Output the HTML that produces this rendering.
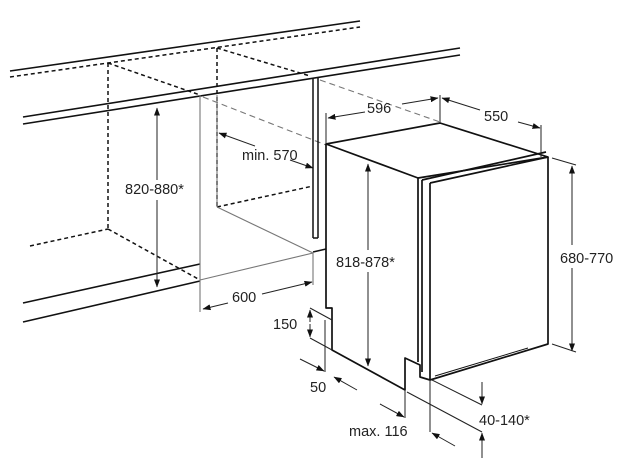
<!DOCTYPE html>
<html><head><meta charset="utf-8"><style>
html,body{margin:0;padding:0;background:#fff}
svg{display:block}
text{font-family:"Liberation Sans",sans-serif;font-size:14.5px;fill:#222}
</style></head><body>
<svg width="639" height="476" viewBox="0 0 639 476" xmlns="http://www.w3.org/2000/svg">
<defs>
<marker id="a" markerWidth="8" markerHeight="6" refX="7.5" refY="3" orient="auto" markerUnits="userSpaceOnUse"><path d="M0,0 L8,3 L0,6 z" fill="#111"/></marker>
</defs>
<g stroke="#111" fill="none" stroke-width="1.6">
<line x1="10" y1="71" x2="360" y2="21"/>
<line x1="23" y1="117" x2="460" y2="48"/>
<line x1="23" y1="124" x2="460" y2="55"/>
<line x1="23" y1="303" x2="200" y2="264"/>
<line x1="23" y1="322" x2="200" y2="281"/>
<line x1="313" y1="252" x2="326" y2="249"/>
</g>
<g stroke="#111" fill="none" stroke-width="1.5" stroke-dasharray="4,3">
<line x1="10" y1="77" x2="360" y2="27"/>
<line x1="108" y1="63" x2="108" y2="229"/>
<line x1="108" y1="63" x2="200" y2="95"/>
<line x1="217" y1="48" x2="217" y2="207"/>
<line x1="217" y1="48" x2="310" y2="76"/>
<line x1="217" y1="207" x2="313" y2="186"/>
<line x1="30" y1="246" x2="108" y2="229"/>
<line x1="108" y1="229" x2="200" y2="280"/>
</g>
<g stroke="#777" fill="none" stroke-width="1.1">
<line x1="200" y1="95" x2="200" y2="312"/>
<line x1="217" y1="95" x2="217" y2="207"/>
<line x1="217" y1="207" x2="313" y2="253"/>
<line x1="200" y1="280" x2="313" y2="253"/>
<line x1="203" y1="97" x2="326" y2="145" stroke-dasharray="6,4"/>
<line x1="313" y1="253" x2="313" y2="285"/>
<line x1="320" y1="80" x2="440" y2="122" stroke-dasharray="6,4"/>
</g>
<g stroke="#111" fill="none" stroke-width="1.5">
<line x1="313" y1="78" x2="313" y2="238"/>
<line x1="318" y1="78" x2="318" y2="238"/>
<line x1="313" y1="238" x2="318" y2="238"/>
</g>
<g stroke="#111" fill="none" stroke-width="1.7" stroke-linejoin="round">
<path d="M326,144 L440,123 L548,157 L418,178 Z" fill="#fff"/>
<path d="M326,144 L326,308 L332,308 L332,350 L405,390 L405,358 L420,365 L420,377 L430,380 L548,344 L548,157"/>
<line x1="418" y1="178" x2="418" y2="362"/>
<line x1="422" y1="180" x2="422" y2="372"/>
<line x1="430" y1="183" x2="430" y2="380"/>
<line x1="422" y1="180" x2="546" y2="152"/>
<line x1="430" y1="183" x2="548" y2="157"/>
<line x1="435" y1="376" x2="528" y2="348" stroke-width="1"/>
</g>
<g stroke="#222" fill="none" stroke-width="1">
<line x1="157" y1="180" x2="157" y2="108" marker-end="url(#a)"/>
<line x1="157" y1="200" x2="157" y2="287" marker-end="url(#a)"/>
<line x1="228" y1="303" x2="203" y2="309" marker-end="url(#a)"/>
<line x1="262" y1="294" x2="312" y2="282" marker-end="url(#a)"/>
<line x1="255" y1="146" x2="219" y2="133" marker-end="url(#a)"/>
<line x1="290" y1="160" x2="313" y2="168" marker-end="url(#a)"/>
<line x1="326" y1="144" x2="326" y2="113"/>
<line x1="440" y1="123" x2="440" y2="95"/>
<line x1="541" y1="157" x2="541" y2="125"/>
<line x1="365" y1="112" x2="328" y2="118" marker-end="url(#a)"/>
<line x1="402" y1="104" x2="438" y2="98" marker-end="url(#a)"/>
<line x1="480" y1="110" x2="442" y2="98" marker-end="url(#a)"/>
<line x1="518" y1="122" x2="540" y2="128" marker-end="url(#a)"/>
<line x1="552" y1="158" x2="576" y2="165"/>
<line x1="552" y1="344" x2="576" y2="352"/>
<line x1="572" y1="245" x2="572" y2="166" marker-end="url(#a)"/>
<line x1="572" y1="268" x2="572" y2="351" marker-end="url(#a)"/>
<line x1="368" y1="250" x2="368" y2="164" marker-end="url(#a)"/>
<line x1="368" y1="272" x2="368" y2="366" marker-end="url(#a)"/>
<line x1="310" y1="308" x2="332" y2="320"/>
<line x1="310" y1="338" x2="332" y2="350"/>
<line x1="310" y1="322" x2="310" y2="310" marker-end="url(#a)"/>
<line x1="310" y1="324" x2="310" y2="337" marker-end="url(#a)"/>
<line x1="325" y1="320" x2="325" y2="372"/>
<line x1="300" y1="359" x2="324" y2="371" marker-end="url(#a)"/>
<line x1="357" y1="390" x2="334" y2="377" marker-end="url(#a)"/>
<line x1="405" y1="390" x2="405" y2="418"/>
<line x1="380" y1="404" x2="404" y2="417" marker-end="url(#a)"/>
<line x1="430" y1="380" x2="430" y2="432"/>
<line x1="455" y1="446" x2="432" y2="433" marker-end="url(#a)"/>
<line x1="432" y1="380" x2="482" y2="405"/>
<line x1="407" y1="392" x2="482" y2="432"/>
<line x1="482" y1="382" x2="482" y2="404" marker-end="url(#a)"/>
<line x1="482" y1="458" x2="482" y2="433" marker-end="url(#a)"/>
</g>
<text x="125" y="194">820-880*</text>
<text x="232" y="302">600</text>
<text x="242" y="160">min. 570</text>
<text x="367" y="113">596</text>
<text x="484" y="121">550</text>
<text x="560" y="263">680-770</text>
<rect x="335" y="253" width="70" height="18" fill="#fff"/>
<text x="336" y="267">818-878*</text>
<text x="273" y="329">150</text>
<text x="310" y="392">50</text>
<text x="349" y="436">max. 116</text>
<text x="479" y="425">40-140*</text>
</svg>
</body></html>
